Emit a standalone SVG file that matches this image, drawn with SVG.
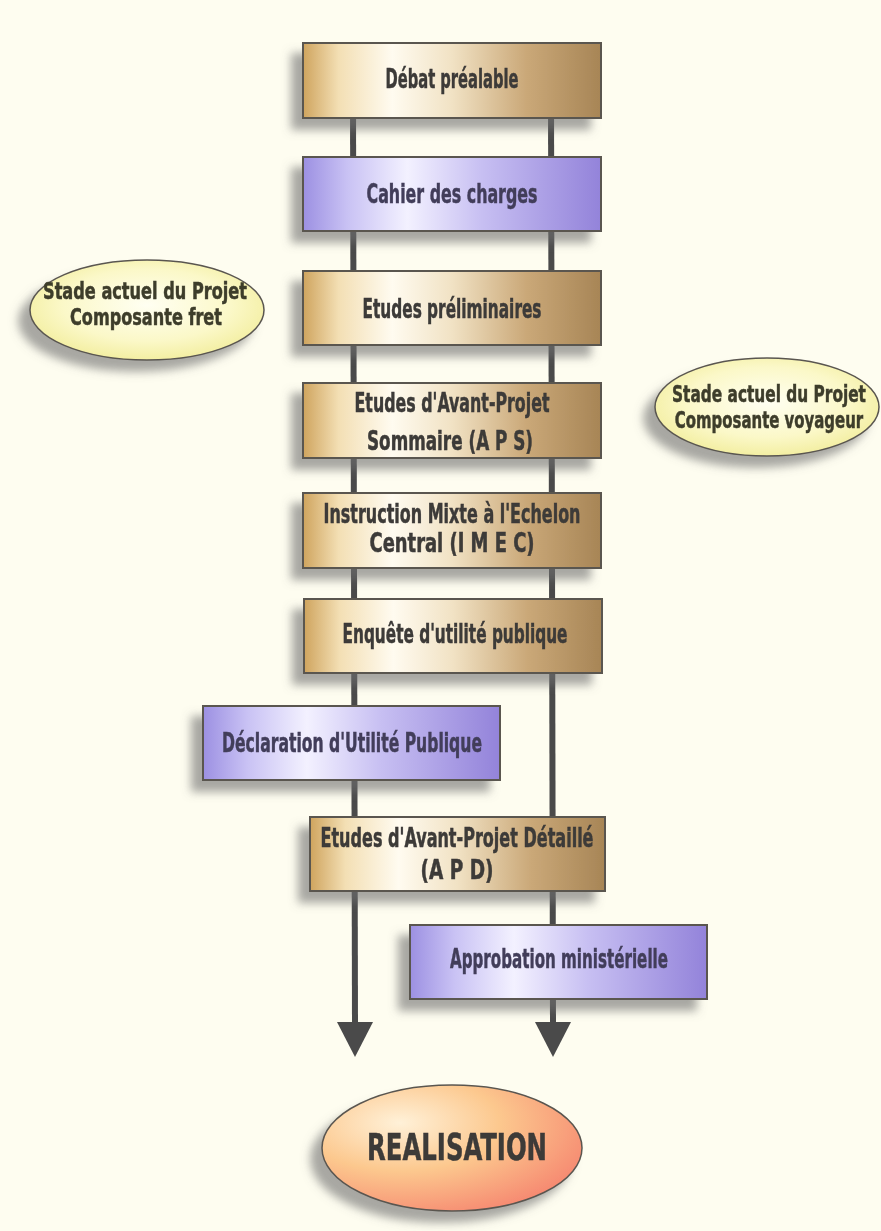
<svg xmlns="http://www.w3.org/2000/svg" width="881" height="1231" viewBox="0 0 881 1231">
<defs>
<linearGradient id="gold" x1="0" y1="0" x2="1" y2="0">
<stop offset="0" stop-color="#cfa45e"/>
<stop offset="0.12" stop-color="#f3dfb4"/>
<stop offset="0.3" stop-color="#fffbf0"/>
<stop offset="0.5" stop-color="#f1e2c4"/>
<stop offset="0.75" stop-color="#caa878"/>
<stop offset="1" stop-color="#a78556"/>
</linearGradient>
<linearGradient id="purple" x1="0" y1="0" x2="1" y2="0">
<stop offset="0" stop-color="#9c90e2"/>
<stop offset="0.15" stop-color="#c9c2f4"/>
<stop offset="0.35" stop-color="#f3f1ff"/>
<stop offset="0.6" stop-color="#c7bff2"/>
<stop offset="1" stop-color="#9383da"/>
</linearGradient>
<radialGradient id="yellow" cx="0.5" cy="0.45" r="0.6">
<stop offset="0" stop-color="#fffff2"/>
<stop offset="0.6" stop-color="#fbf8c8"/>
<stop offset="1" stop-color="#f1ec98"/>
</radialGradient>
<radialGradient id="peach" cx="0.3" cy="0.3" r="0.85">
<stop offset="0" stop-color="#fff1d8"/>
<stop offset="0.45" stop-color="#fcc88e"/>
<stop offset="1" stop-color="#f57f6c"/>
</radialGradient>
<filter id="shadow" x="-20%" y="-30%" width="140%" height="170%">
<feGaussianBlur in="SourceAlpha" stdDeviation="5"/>
<feOffset dx="-11" dy="11" result="b"/>
<feFlood flood-color="#6e6e6e" flood-opacity="0.6"/>
<feComposite in2="b" operator="in"/>
<feMerge><feMergeNode/><feMergeNode in="SourceGraphic"/></feMerge>
</filter>
<style>
.box{stroke:#5a5650;stroke-width:2}
.g{fill:url(#gold)}
.p{fill:url(#purple)}
.t{font-family:"DejaVu Sans Condensed","DejaVu Sans",sans-serif;font-weight:bold;font-size:26px;fill:#3c3a38;stroke:#3c3a38;stroke-width:0.5;text-anchor:middle}
.tp{fill:#423e5a;stroke:#423e5a}
.te{fill:#3e3d2c;stroke:#3e3d2c;font-size:23px}
.line{stroke:#4a4a4a;stroke-width:6;fill:none}
.head{fill:#4a4a4a}
.ell{stroke:#5a5650;stroke-width:1.5}
</style>
</defs>
<rect width="881" height="1231" fill="#fefdf0"/>
<g id="connectors">
<line class="line" x1="353" y1="100" x2="355" y2="1024"/>
<line class="line" x1="551" y1="100" x2="553" y2="1024"/>
<polygon class="head" points="337,1022 373,1022 355,1057"/>
<polygon class="head" points="535,1022 571,1022 553,1057"/>
</g>
<g id="debat" filter="url(#shadow)">
<rect class="box g" x="303" y="43" width="298" height="75"/>
<text class="t" x="452" y="88" textLength="133" lengthAdjust="spacingAndGlyphs">Débat préalable</text>
</g>
<g id="cahier" filter="url(#shadow)">
<rect class="box p" x="303" y="157" width="298" height="74"/>
<text class="t tp" x="452" y="203" textLength="171" lengthAdjust="spacingAndGlyphs">Cahier des charges</text>
</g>
<g id="prelim" filter="url(#shadow)">
<rect class="box g" x="303" y="271" width="298" height="74"/>
<text class="t" x="452" y="318" textLength="179" lengthAdjust="spacingAndGlyphs">Etudes préliminaires</text>
</g>
<g id="aps" filter="url(#shadow)">
<rect class="box g" x="303" y="383" width="298" height="75"/>
<text class="t" x="452" y="412" textLength="195" lengthAdjust="spacingAndGlyphs">Etudes d'Avant-Projet</text>
<text class="t" x="450" y="450" textLength="166" lengthAdjust="spacingAndGlyphs">Sommaire (A P S)</text>
</g>
<g id="imec" filter="url(#shadow)">
<rect class="box g" x="303" y="493" width="298" height="75"/>
<text class="t" x="452" y="523" textLength="257" lengthAdjust="spacingAndGlyphs">Instruction Mixte à l'Echelon</text>
<text class="t" x="452" y="552" textLength="165" lengthAdjust="spacingAndGlyphs">Central (I M E C)</text>
</g>
<g id="enquete" filter="url(#shadow)">
<rect class="box g" x="304" y="599" width="298" height="74"/>
<text class="t" x="455" y="643" textLength="225" lengthAdjust="spacingAndGlyphs">Enquête d'utilité publique</text>
</g>
<g id="dup" filter="url(#shadow)">
<rect class="box p" x="203" y="706" width="297" height="74"/>
<text class="t tp" x="352" y="752" textLength="260" lengthAdjust="spacingAndGlyphs">Déclaration d'Utilité Publique</text>
</g>
<g id="apd" filter="url(#shadow)">
<rect class="box g" x="310" y="817" width="295" height="74"/>
<text class="t" x="457" y="847" textLength="273" lengthAdjust="spacingAndGlyphs">Etudes d'Avant-Projet Détaillé</text>
<text class="t" x="457" y="879" textLength="73" lengthAdjust="spacingAndGlyphs">(A P D)</text>
</g>
<g id="approbation" filter="url(#shadow)">
<rect class="box p" x="410" y="925" width="297" height="74"/>
<text class="t tp" x="559" y="968" textLength="218" lengthAdjust="spacingAndGlyphs">Approbation ministérielle</text>
</g>
<g id="stade-fret" filter="url(#shadow)">
<ellipse class="ell" cx="147" cy="310" rx="117" ry="50" fill="url(#yellow)"/>
<text class="t te" x="145" y="299" textLength="204" lengthAdjust="spacingAndGlyphs">Stade actuel du Projet</text>
<text class="t te" x="146" y="325" textLength="152" lengthAdjust="spacingAndGlyphs">Composante fret</text>
</g>
<g id="stade-voyageur" filter="url(#shadow)">
<ellipse class="ell" cx="767" cy="407" rx="112" ry="49" fill="url(#yellow)"/>
<g transform="translate(769 0) scale(0.7 1)">
<text class="t te" x="0" y="402" textLength="277" lengthAdjust="spacingAndGlyphs">Stade actuel du Projet</text>
<text class="t te" x="0" y="428" textLength="269" lengthAdjust="spacingAndGlyphs">Composante voyageur</text>
</g>
</g>
<g id="realisation" filter="url(#shadow)">
<ellipse class="ell" cx="452" cy="1148" rx="130" ry="63" fill="url(#peach)"/>
<text class="t" x="457" y="1160" style="font-size:38px" textLength="180" lengthAdjust="spacingAndGlyphs">REALISATION</text>
</g>
</svg>
